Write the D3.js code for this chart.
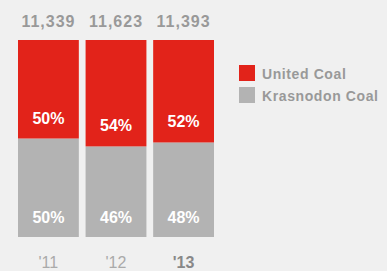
<html>
<head>
<style>
  body { margin: 0; background: #f0f0f0; }
  svg { display: block; font-family: "Liberation Sans", Arial, sans-serif; }
</style>
</head>
<body>
<svg></svg>
<script src="https://d3js.org/d3.v7.min.js"></script>
<script>
var years = ["'11", "'12", "'13"];
var totals = ["11,339", "11,623", "11,393"];
var united = [50, 54, 52];
var krasnodon = [50, 46, 48];
var seriesNames = ["United Coal", "Krasnodon Coal"];
var colors = ["#e2231a", "#b3b3b3"];

var svg = d3.select("svg").attr("width", 387).attr("height", 271);

var x = d3.scaleBand().domain(years).range([18, 214]).paddingInner(0.1).paddingOuter(0);
var y = d3.scaleLinear().domain([0, 100]).range([237, 40]);

var rows = years.map(function(yr, i) {
  return { year: yr, total: totals[i], u: united[i], k: krasnodon[i] };
});

// gray bottom (krasnodon)
svg.selectAll(".kbar").data(rows).enter().append("rect")
  .attr("x", function(d) { return x(d.year); })
  .attr("width", x.bandwidth())
  .attr("y", function(d) { return y(d.k); })
  .attr("height", function(d) { return y(0) - y(d.k); })
  .attr("fill", colors[1]);

// red top (united)
svg.selectAll(".ubar").data(rows).enter().append("rect")
  .attr("x", function(d) { return x(d.year); })
  .attr("width", x.bandwidth())
  .attr("y", function(d) { return y(d.k + d.u); })
  .attr("height", function(d) { return y(d.k) - y(d.k + d.u); })
  .attr("fill", colors[0]);

var cx = function(d) { return x(d.year) + x.bandwidth() / 2; };

svg.selectAll(".ulab").data(rows).enter().append("text")
  .attr("x", cx)
  .attr("y", function(d) { return y(d.k) - 15; })
  .attr("text-anchor", "middle")
  .attr("fill", "#fff").attr("font-weight", "bold").attr("font-size", 16)
  .text(function(d) { return d.u + "%"; });

svg.selectAll(".klab").data(rows).enter().append("text")
  .attr("x", cx)
  .attr("y", y(0) - 14)
  .attr("text-anchor", "middle")
  .attr("fill", "#fff").attr("font-weight", "bold").attr("font-size", 16)
  .text(function(d) { return d.k + "%"; });

svg.selectAll(".tot").data(rows).enter().append("text")
  .attr("x", cx)
  .attr("y", 27)
  .attr("text-anchor", "middle")
  .attr("fill", "#999").attr("font-weight", "bold").attr("font-size", 16)
  .attr("letter-spacing", 1)
  .text(function(d) { return d.total; });

svg.selectAll(".yr").data(rows).enter().append("text")
  .attr("x", cx)
  .attr("y", 268)
  .attr("text-anchor", "middle")
  .attr("font-size", 16)
  .attr("fill", function(d, i) { return i == rows.length - 1 ? "#888" : "#aaa"; })
  .attr("font-weight", function(d, i) { return i == rows.length - 1 ? "bold" : "normal"; })
  .text(function(d) { return d.year; });

// legend
var leg = svg.selectAll(".leg").data(seriesNames).enter().append("g")
  .attr("transform", function(d, i) { return "translate(239," + (65 + i * 22) + ")"; });
leg.append("rect").attr("width", 16).attr("height", 16)
  .attr("fill", function(d, i) { return colors[i]; });
leg.append("text").attr("x", 23).attr("y", 14)
  .attr("fill", "#999").attr("font-weight", "bold").attr("font-size", 14)
  .attr("letter-spacing", 0.6)
  .text(function(d) { return d; });
</script>
</body>
</html>
